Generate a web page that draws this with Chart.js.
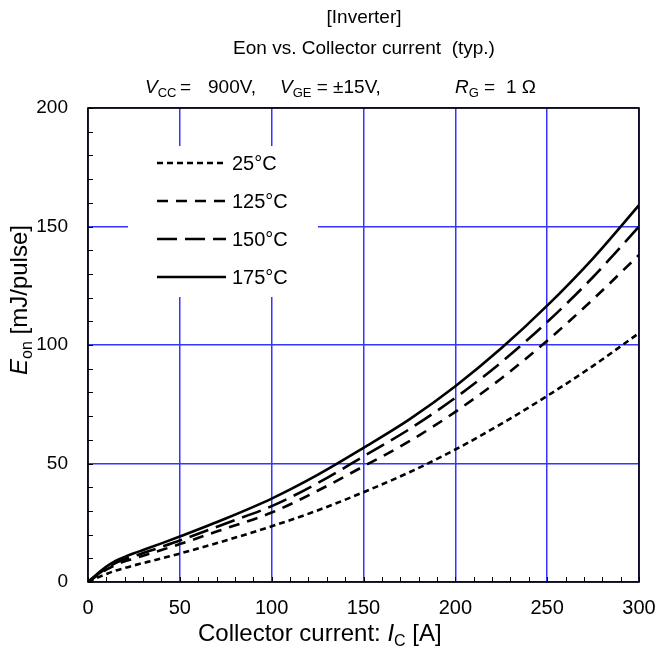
<!DOCTYPE html>
<html>
<head>
<meta charset="utf-8">
<script src="https://cdn.jsdelivr.net/npm/chart.js@4.4.1/dist/chart.umd.min.js"></script>
<style>
html,body{margin:0;padding:0;background:#fff;}
#wrap{width:656px;height:657px;}
</style>
</head>
<body>
<div id="wrap"><canvas id="c" width="656" height="657"></canvas></div>
<script>
// Collector current [A]
const currents = [0, 5, 10, 15, 20, 25, 30, 40, 50, 75, 100, 125, 150, 175, 200, 225, 250, 275, 300];
// Eon [mJ/pulse]
const eon25  = [0, 1.8, 3.4, 4.8, 5.9, 7.0, 8.0, 10.0, 12.0, 17.5, 23.5, 30.2, 37.9, 46.3, 55.9, 66.7, 78.5, 91.2, 105];
const eon125 = [0, 2.7, 5.2, 7.2, 8.7, 9.9, 11.1, 13.5, 16.0, 22.6, 29.3, 38.5, 48.8, 59.4, 71.8, 85.9, 101.8, 119.3, 138];
const eon150 = [0, 3.0, 5.8, 8.0, 9.6, 10.9, 12.2, 14.8, 17.5, 24.7, 32.0, 41.7, 53.0, 64.5, 77.7, 92.7, 109.7, 128.7, 150];
const eon175 = [0, 3.4, 6.5, 8.9, 10.6, 12.1, 13.5, 16.3, 19.2, 26.8, 35.2, 45.2, 56.6, 68.6, 82.6, 98.6, 116.6, 136.6, 159];
const seriesLabels = ['25°C', '125°C', '150°C', '175°C'];
const xTickValues = [0, 50, 100, 150, 200, 250, 300];
const yTickValues = [0, 50, 100, 150, 200];

const FONT = '"Liberation Sans", Arial, sans-serif';
const dashes = [[6, 4], [11, 8], [20, 8], []];
const allSeries = [eon25, eon125, eon150, eon175];

const datasets = allSeries.map((s, i) => ({
  label: seriesLabels[i],
  data: currents.map((x, k) => ({x: x, y: s[k]})),
  borderColor: '#000',
  borderWidth: 2.6,
  borderDash: dashes[i],
  pointRadius: 0,
  fill: false,
  cubicInterpolationMode: 'monotone'
}));

function setFont(ctx, st, size) {
  const sub = Math.round(size * 0.68);
  ctx.font = (st === 's' ? sub + 'px ' : st === 'i' ? 'italic ' + size + 'px ' : size + 'px ') + FONT;
}
function richText(ctx, parts, x, y, size) {
  let cx = x;
  for (const [t, st] of parts) {
    setFont(ctx, st, size);
    ctx.fillText(t, cx, st === 's' ? y + Math.round(size * 0.22) : y);
    cx += ctx.measureText(t).width;
  }
  return cx - x;
}
function measureRich(ctx, parts, size) {
  let w = 0;
  for (const [t, st] of parts) { setFont(ctx, st, size); w += ctx.measureText(t).width; }
  return w;
}

const decor = {
  id: 'decor',
  afterDraw(chart) {
    const ctx = chart.ctx, xs = chart.scales.x, ys = chart.scales.y, a = chart.chartArea;
    ctx.save();
    // minor ticks (inside)
    ctx.strokeStyle = '#000';
    ctx.lineWidth = 1;
    for (let v = 0; v <= 300; v += 10) {
      const px = Math.round(xs.getPixelForValue(v)) + 0.5;
      ctx.beginPath(); ctx.moveTo(px, a.bottom); ctx.lineTo(px, a.bottom - 5); ctx.stroke();
    }
    for (let v = 0; v <= 200; v += 10) {
      const py = Math.round(ys.getPixelForValue(v)) + 0.5;
      ctx.beginPath(); ctx.moveTo(a.left, py); ctx.lineTo(a.left + 5, py); ctx.stroke();
    }
    // frame
    ctx.lineWidth = 1.6;
    ctx.strokeRect(a.left, a.top, a.right - a.left, a.bottom - a.top);

    // legend box
    ctx.fillStyle = '#fff';
    ctx.fillRect(128, 146, 190, 151);
    ctx.fillStyle = '#000';
    ctx.strokeStyle = '#000';
    ctx.lineWidth = 2.6;
    const rows = [163, 201, 239, 277];
    for (let i = 0; i < 4; i++) {
      ctx.setLineDash(dashes[i]);
      ctx.beginPath(); ctx.moveTo(157, rows[i]); ctx.lineTo(226, rows[i]); ctx.stroke();
      ctx.setLineDash([]);
      ctx.font = '20px ' + FONT;
      ctx.textBaseline = 'middle';
      ctx.textAlign = 'left';
      ctx.fillText(seriesLabels[i], 232, rows[i] + 1);
    }
    ctx.textBaseline = 'alphabetic';

    // titles
    ctx.textAlign = 'left';
    ctx.font = '19px ' + FONT;
    const cxT = 364;
    let w = ctx.measureText('[Inverter]').width;
    ctx.fillText('[Inverter]', cxT - w / 2, 23);
    w = ctx.measureText('Eon vs. Collector current  (typ.)').width;
    ctx.fillText('Eon vs. Collector current  (typ.)', cxT - w / 2, 54);
    // third line
    richText(ctx, [['V', 'i'], ['CC', 's']], 145, 93, 19);
    richText(ctx, [['=', 'n']], 180, 93, 19);
    richText(ctx, [['900V,', 'n']], 208, 93, 19);
    richText(ctx, [['V', 'i'], ['GE', 's'], [' = ±15V,', 'n']], 280, 93, 19);
    richText(ctx, [['R', 'i'], ['G', 's'], [' =', 'n']], 455, 93, 19);
    richText(ctx, [['1 Ω', 'n']], 506, 93, 19);

    // x-axis title
    const xParts = [['Collector current: ', 'n'], ['I', 'i'], ['C', 's'], [' [A]', 'n']];
    richText(ctx, xParts, 198, 641, 24);

    // y-axis title
    const yParts = [['E', 'i'], ['on', 's'], [' [mJ/pulse]', 'n']];
    w = measureRich(ctx, yParts, 24);
    ctx.translate(27, 300);
    ctx.rotate(-Math.PI / 2);
    richText(ctx, yParts, -w / 2, 0, 24);
    ctx.restore();
  }
};

new Chart(document.getElementById('c'), {
  type: 'line',
  data: { datasets: datasets },
  options: {
    responsive: false,
    animation: false,
    devicePixelRatio: 1,
    layout: { padding: { left: 0, right: 17, top: 108, bottom: 0 } },
    plugins: { legend: { display: false }, tooltip: { enabled: false } },
    scales: {
      x: {
        type: 'linear', min: 0, max: 300,
        afterFit(s) { s.height = 75; s.paddingLeft = 0; s.paddingRight = 0; },
        afterBuildTicks(s) { s.ticks = xTickValues.map(v => ({value: v})); },
        ticks: { color: '#000', font: { family: FONT, size: 20 }, padding: 14, maxRotation: 0 },
        grid: { color: '#3535ff', lineWidth: 1.5, drawTicks: false },
        border: { display: false }
      },
      y: {
        type: 'linear', min: 0, max: 200,
        afterFit(s) { s.width = 88; s.paddingTop = 0; s.paddingBottom = 0; },
        afterBuildTicks(s) { s.ticks = yTickValues.map(v => ({value: v})); },
        ticks: { color: '#000', font: { family: FONT, size: 19 }, padding: 20 },
        grid: { color: '#3535ff', lineWidth: 1.5, drawTicks: false },
        border: { display: false }
      }
    }
  },
  plugins: [decor]
});
</script>
</body>
</html>
